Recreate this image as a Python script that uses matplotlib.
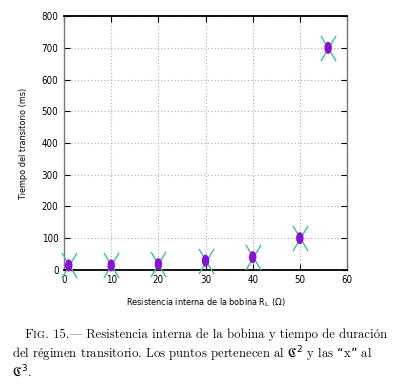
import matplotlib
matplotlib.use("Agg")
import numpy as np
import matplotlib.pyplot as plt
from matplotlib.path import Path

# Data
resistance = [1, 10, 20, 30, 40, 50, 56]
time_c2 = [14, 14, 18, 29, 40, 100, 700]
time_c3 = [14, 14, 18, 29, 40, 100, 700]

x_ticks = [0, 10, 20, 30, 40, 50, 60]
y_ticks = [0, 100, 200, 300, 400, 500, 600, 700, 800]

# tall "x" and tall ellipse markers (gnuplot look)
cross = Path([(-0.6, -1), (0.6, 1), (-0.6, 1), (0.6, -1)],
             [Path.MOVETO, Path.LINETO, Path.MOVETO, Path.LINETO])
t = np.linspace(0, 2 * np.pi, 40)
oval = Path(np.column_stack([0.62 * np.cos(t), np.sin(t)]), closed=True)

fig = plt.figure(figsize=(3.93, 3.85), dpi=100)
ax = fig.add_axes([0.163, 0.299, 0.72, 0.659])

ax.scatter(resistance, time_c3, marker=cross, s=330, color="#40c0a0", linewidths=1.0,
           zorder=3, clip_on=False)
ax.scatter(resistance, time_c2, marker=oval, s=75, color="#8a10d8", edgecolors="none",
           zorder=4, clip_on=False)

ax.set_xlim(0, 60)
ax.set_ylim(0, 800)
ax.set_xticks(x_ticks)
ax.set_yticks(y_ticks)
ax.grid(True, color="#b9a6b9", linestyle=(0, (1, 2)), linewidth=0.8)
ax.tick_params(direction="in", length=4, labelsize=7, pad=4, top=True, right=True)
for lab in ax.get_xticklabels() + ax.get_yticklabels():
    lab.set_family("DejaVu Sans")
    lab.set_stretch("condensed")

for side in ["left", "right"]:
    ax.spines[side].set_color("#777777")
    ax.spines[side].set_linewidth(1.0)
for side in ["top", "bottom"]:
    ax.spines[side].set_color("black")
    ax.spines[side].set_linewidth(1.3)

ax.set_ylabel("Tiempo del transitorio (ms)", fontsize=6.5, family="DejaVu Sans",
              fontstretch="condensed", labelpad=10)
ax.set_xlabel(r"Resistencia interna de la bobina R$_\mathrm{L}$ ($\Omega$)", fontsize=6.5,
              family="DejaVu Sans", fontstretch="condensed", labelpad=8)

# caption
cap = dict(family="Latin Modern Roman", fontsize=9.1, va="baseline")
fig_lbl = fig.text(0.062, 0.123, "Fig.", family="Latin Modern Roman Caps", fontsize=9.1,
                   ha="left", va="baseline")
ax.annotate(" 15.\u2014 Resistencia interna de la bobina y tiempo de duración",
            xy=(1, 0), xycoords=fig_lbl, ha="left", annotation_clip=False, **cap)
fig.text(0.030, 0.070, "del régimen transitorio. Los puntos pertenecen al $\\mathfrak{C}^2$ y las \u201cx\u201d al",
         ha="left", **cap)
fig.text(0.030, 0.022, "$\\mathfrak{C}^3$.", ha="left", **cap)

fig.savefig("out.png", dpi=100)
